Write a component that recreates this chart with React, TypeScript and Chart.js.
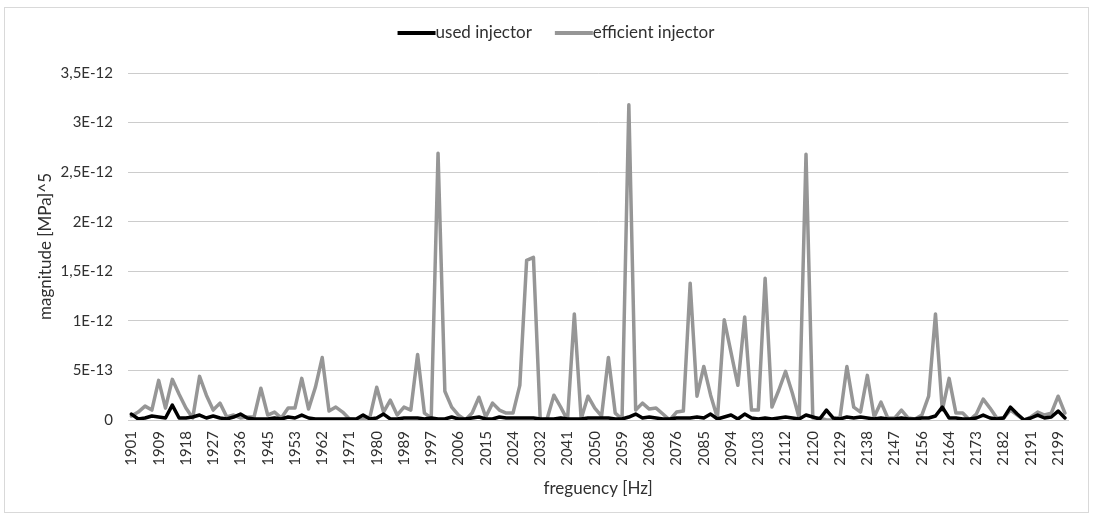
import React, { useEffect, useRef } from 'react';
import { Chart, registerables } from 'chart.js';

Chart.register(...registerables);

// ---- data (magnitudes in units of 1E-13 MPa^5) ----
const FREQ_START = 1901.185;
const FREQ_STEP = 2.19675;

const tickLabels = [
  '1901', '1909', '1918', '1927', '1936', '1945', '1953', '1962', '1971', '1980',
  '1989', '1997', '2006', '2015', '2024', '2032', '2041', '2050', '2059', '2068',
  '2076', '2085', '2094', '2103', '2112', '2120', '2129', '2138', '2147', '2156',
  '2164', '2173', '2182', '2191', '2199',
];

const usedInjector = [
  0.6, 0.1, 0.2, 0.4, 0.3, 0.2, 1.5, 0.2, 0.2, 0.3,
  0.5, 0.2, 0.4, 0.2, 0.1, 0.3, 0.6, 0.2, 0.1, 0.1,
  0.1, 0.2, 0.1, 0.3, 0.2, 0.5, 0.2, 0.1, 0.1, 0.1,
  0.1, 0.1, 0.1, 0.1, 0.5, 0.1, 0.2, 0.6, 0.1, 0.1,
  0.2, 0.2, 0.2, 0.1, 0.2, 0.1, 0.1, 0.3, 0.1, 0.1,
  0.2, 0.3, 0.1, 0.1, 0.3, 0.2, 0.2, 0.2, 0.2, 0.2,
  0.1, 0.1, 0.1, 0.2, 0.1, 0.1, 0.1, 0.2, 0.2, 0.2,
  0.2, 0.1, 0.1, 0.3, 0.6, 0.2, 0.3, 0.2, 0.1, 0.1,
  0.2, 0.2, 0.2, 0.3, 0.2, 0.6, 0.1, 0.3, 0.5, 0.1,
  0.6, 0.2, 0.1, 0.2, 0.1, 0.2, 0.3, 0.2, 0.1, 0.5,
  0.3, 0.1, 1.0, 0.2, 0.1, 0.3, 0.2, 0.3, 0.2, 0.1,
  0.2, 0.1, 0.1, 0.2, 0.1, 0.1, 0.2, 0.2, 0.4, 1.3,
  0.2, 0.2, 0.1, 0.1, 0.2, 0.5, 0.2, 0.1, 0.2, 1.3,
  0.6, 0.0, 0.2, 0.5, 0.2, 0.3, 0.9, 0.2,
];

const efficientInjector = [
  0.4, 0.8, 1.4, 1.0, 4.0, 1.2, 4.1, 2.6, 1.2, 0.2,
  4.4, 2.5, 1.0, 1.7, 0.3, 0.5, 0.2, 0.3, 0.3, 3.2,
  0.5, 0.8, 0.2, 1.2, 1.2, 4.2, 1.1, 3.3, 6.3, 0.9,
  1.3, 0.8, 0.1, 0.0, 0.1, 0.3, 3.3, 0.8, 2.0, 0.5,
  1.3, 1.0, 6.6, 0.7, 0.2, 26.9, 2.9, 1.3, 0.5, 0.0,
  0.7, 2.3, 0.3, 1.7, 1.0, 0.7, 0.7, 3.5, 16.1, 16.4,
  0.0, 0.1, 2.5, 1.3, 0.0, 10.7, 0.1, 2.4, 1.2, 0.4,
  6.3, 0.7, 0.1, 31.8, 1.0, 1.7, 1.1, 1.2, 0.6, 0.0,
  0.8, 0.9, 13.8, 2.4, 5.4, 2.5, 0.2, 10.1, 6.8, 3.5,
  10.4, 1.0, 1.0, 14.3, 1.3, 3.0, 4.9, 2.7, 0.2, 26.8,
  0.2, 0.2, 0.0, 0.0, 0.3, 5.4, 1.3, 0.8, 4.5, 0.3,
  1.8, 0.2, 0.2, 1.0, 0.2, 0.1, 0.5, 2.4, 10.7, 1.0,
  4.2, 0.7, 0.7, 0.0, 0.6, 2.1, 1.2, 0.2, 0.2, 1.0,
  0.5, 0.0, 0.3, 0.8, 0.5, 0.7, 2.4, 0.7,
];

const categories = efficientInjector.map((_, i) =>
  String(Math.floor(FREQ_START + i * FREQ_STEP))
);

const TICK_EVERY = 4;

// ---- styling ----
const FONT = 'Lato, "Open Sans", sans-serif';
const TEXT_COLOR = '#303030';
const GRID_COLOR = '#cccccc';
const USED_COLOR = '#000000';
const EFFICIENT_COLOR = '#969696';
const LINE_WIDTH = 3.5;
const LEGEND_FONT_SIZE = 17;
const LEGEND_CENTER_X = 556;
const LEGEND_Y = 33;
const SAMPLE_W = 38;
const ITEM_GAP = 23;

function excelSci(v: number): string {
  if (v === 0) return '0';
  let m = v;
  let e = -13;
  while (m >= 10 - 1e-9) {
    m /= 10;
    e += 1;
  }
  m = Math.round(m * 10) / 10;
  return String(m).replace('.', ',') + 'E' + e;
}

const legendPlugin = {
  id: 'excelLegend',
  afterDraw(chart: any) {
    const ctx = chart.ctx as CanvasRenderingContext2D;
    ctx.save();
    ctx.font = `${LEGEND_FONT_SIZE}px ${FONT}`;
    const items = chart.data.datasets.map((ds: any) => ({
      text: ds.label as string,
      color: ds.borderColor as string,
      w: ctx.measureText(ds.label).width,
    }));
    const total =
      items.reduce((a: number, it: any) => a + SAMPLE_W + it.w, 0) +
      ITEM_GAP * (items.length - 1);
    let x = LEGEND_CENTER_X - total / 2;
    for (const it of items) {
      ctx.beginPath();
      ctx.strokeStyle = it.color;
      ctx.lineWidth = 4;
      ctx.lineCap = 'butt';
      ctx.moveTo(x, LEGEND_Y);
      ctx.lineTo(x + SAMPLE_W, LEGEND_Y);
      ctx.stroke();
      ctx.fillStyle = TEXT_COLOR;
      ctx.textAlign = 'left';
      ctx.textBaseline = 'middle';
      ctx.fillText(it.text, x + SAMPLE_W, LEGEND_Y);
      x += SAMPLE_W + it.w + ITEM_GAP;
    }
    ctx.restore();
  },
};

export default function App() {
  const canvasRef = useRef<HTMLCanvasElement | null>(null);

  useEffect(() => {
    if (!canvasRef.current) return;
    const chart = new Chart(canvasRef.current, {
      type: 'line',
      data: {
        labels: categories,
        datasets: [
          {
            label: 'used injector',
            data: usedInjector,
            borderColor: USED_COLOR,
            backgroundColor: USED_COLOR,
            borderWidth: LINE_WIDTH,
            pointRadius: 0,
            tension: 0,
            borderJoinStyle: 'round',
            borderCapStyle: 'round',
          },
          {
            label: 'efficient injector',
            data: efficientInjector,
            borderColor: EFFICIENT_COLOR,
            backgroundColor: EFFICIENT_COLOR,
            borderWidth: LINE_WIDTH,
            pointRadius: 0,
            tension: 0,
            borderJoinStyle: 'round',
            borderCapStyle: 'round',
          },
        ],
      },
      options: {
        responsive: false,
        animation: false,
        devicePixelRatio: 1,
        layout: { padding: { left: 0, right: 14, top: 73, bottom: 0 } },
        plugins: {
          legend: { display: false },
          tooltip: { enabled: false },
        },
        scales: {
          x: {
            type: 'category',
            offset: true,
            grid: { display: false, drawTicks: false },
            border: { display: true, color: GRID_COLOR },
            ticks: {
              autoSkip: false,
              maxRotation: 90,
              minRotation: 90,
              padding: 11,
              color: TEXT_COLOR,
              font: { family: FONT, size: 15 },
              callback: (_v: any, index: number) =>
                index % TICK_EVERY === 0 ? tickLabels[index / TICK_EVERY] ?? '' : '',
            },
            title: {
              display: true,
              text: 'freguency [Hz]',
              color: TEXT_COLOR,
              font: { family: FONT, size: 17 },
              padding: { top: 0, bottom: 19 },
            },
            afterFit: (s: any) => {
              s.height = 98;
            },
          },
          y: {
            min: 0,
            max: 35,
            grid: { color: GRID_COLOR, lineWidth: 1, drawTicks: false },
            border: { display: false },
            ticks: {
              stepSize: 5,
              padding: 15,
              color: TEXT_COLOR,
              font: { family: FONT, size: 15 },
              callback: (v: any) => excelSci(Number(v)),
            },
            title: {
              display: true,
              text: 'magnitude [MPa]^5',
              color: TEXT_COLOR,
              font: { family: FONT, size: 17 },
              padding: { top: 35, bottom: 0 },
            },
            afterFit: (s: any) => {
              s.width = 128;
            },
          },
        },
      },
      plugins: [legendPlugin],
    } as any);
    return () => chart.destroy();
  }, []);

  return (
    <div
      style={{
        position: 'fixed',
        left: 0,
        top: 0,
        width: 1094,
        height: 518,
        background: '#ffffff',
      }}
    >
      <canvas
        ref={canvasRef}
        width={1094}
        height={518}
        style={{ position: 'absolute', left: 0, top: 0, width: 1094, height: 518, display: 'block' }}
      />
      <div
        style={{
          position: 'absolute',
          left: 4,
          top: 7,
          width: 1083,
          height: 504,
          border: '1px solid #d9d9d9',
          pointerEvents: 'none',
        }}
      />
    </div>
  );
}
